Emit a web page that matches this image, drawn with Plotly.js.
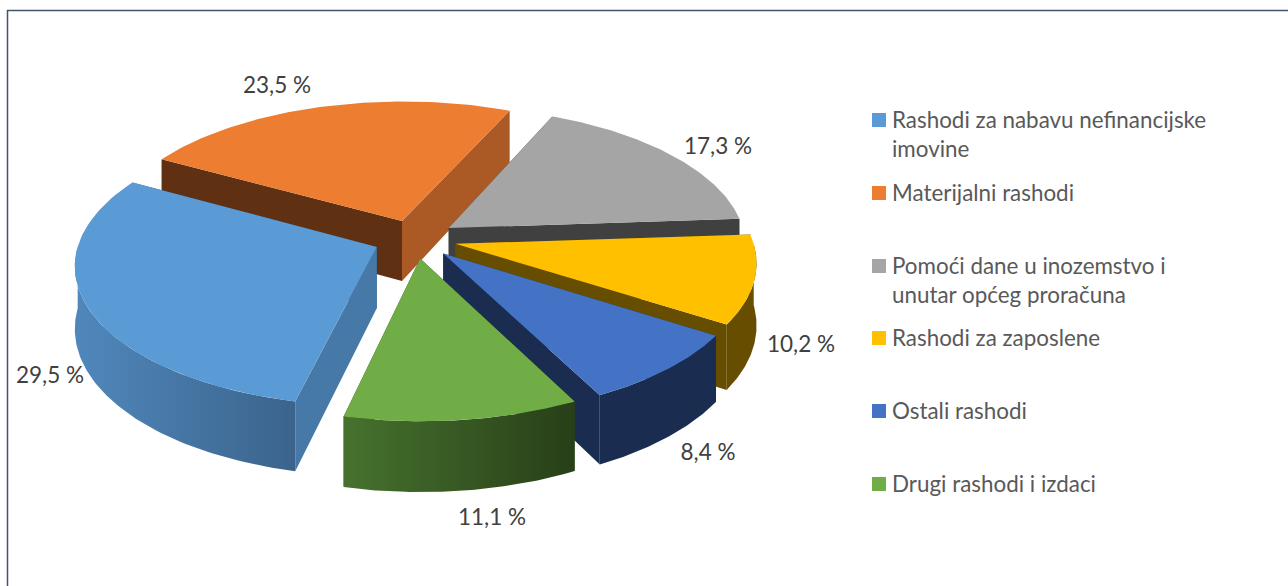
<!DOCTYPE html>
<html><head><meta charset="utf-8">
<script src="https://cdn.plot.ly/plotly-3.0.1.min.js"></script>
<style>html,body{margin:0;padding:0;background:#fff}#c{width:1288px;height:586px}</style>
</head><body><div id="c"></div>
<script>
// ---- data ----
const categories = ['Rashodi za nabavu nefinancijske<br>imovine','Materijalni rashodi','Pomoći dane u inozemstvo i<br>unutar općeg proračuna','Rashodi za zaposlene','Ostali rashodi','Drugi rashodi i izdaci'];
const values = [29.5,23.5,17.3,10.2,8.4,11.1];
// ---- styles ----
const topColors   = ['#5b9bd5','#ed7d31','#a5a5a5','#ffc000','#4472c4','#70ad47'];
const startWall   = ['#4679a8','#5f3112','#404040','#664d00','#1a2c50','#2b4519'];
const endWall     = ['#335f88','#ab5a25','#404040','#664d00','#1a2c50','#2b4519'];
const outerFrom   = ['#5088bc','#5f3112','#404040','#664d00','#1a2c50','#46722e'];
const outerTo     = ['#3b638c','#5f3112','#404040','#664d00','#1a2c50','#283f18'];
const drawOrder   = [1,2,3,4,5,0];
const labelX = [50,277,718,801,708,492];
const labelY = [377,87,148,346,454,519];
const legendY = [120,193,266,338,411,484];
// ---- pie geometry ----
const G = {cx:415, cy:239, rx:297, ry:138, persp:0.121, depth:61, explode:0.14, start:257};
const rad = d => d*Math.PI/180;
const total = values.reduce((a,b)=>a+b,0);
function proj(X,Y,h){
  const w = 1/(1+G.persp*Y);
  return [G.cx+G.rx*X*w, G.cy-G.ry*Y*w+(h?G.depth*w:0)];
}
const angles=[]; let acc=G.start;
values.forEach(v=>{const a0=acc, a1=acc-v/total*360; angles.push([a0,a1]); acc=a1;});

function poly(pts,color,grad,name){
  const t={type:'scatter',mode:'lines',x:pts.map(p=>p[0]),y:pts.map(p=>p[1]),fill:'toself',
    line:{width:0,color:color},fillcolor:color,hoverinfo:'skip',showlegend:false,name:name};
  if(grad) t.fillgradient={type:'horizontal',colorscale:[[0,grad[0]],[1,grad[1]]]};
  return t;
}
const traces=[];
drawOrder.forEach(i=>{
  const [a0,a1]=angles[i], mid=rad((a0+a1)/2);
  const ax=G.explode*Math.cos(mid), ay=G.explode*Math.sin(mid);
  const arc=(from,to,h)=>{const n=80,o=[];for(let k=0;k<=n;k++){const t=rad(from+(to-from)*k/n);o.push(proj(ax+Math.cos(t),ay+Math.sin(t),h));}return o;};
  const edge=(a)=>[ax+Math.cos(rad(a)),ay+Math.sin(rad(a))];
  const wall=(a,c)=>{const e=edge(a);return poly([proj(ax,ay,0),proj(e[0],e[1],0),proj(e[0],e[1],1),proj(ax,ay,1)],c,null,categories[i]);};
  traces.push(wall(a1,endWall[i]));
  traces.push(wall(a0,startWall[i]));
  // outer wall: only the part on the near side of the disc
  let f=a0,t=a1;
  if(f>180&&t<180) t=180;         // slice straddles the left end
  if(t<0&&f>0) f=0;               // slice straddles the right end
  if(f>0&&f<=180&&t>=0) f=null;   // slice lies at the back
  if(f!==null){
    const top=arc(f,t,0), bot=arc(f,t,1).reverse();
    traces.push(poly(top.concat(bot),outerFrom[i],[outerFrom[i],outerTo[i]],categories[i]));
  }
  // top face
  traces.push(poly([proj(ax,ay,0)].concat(arc(a0,a1,0)),topColors[i],null,categories[i]));
});
// value labels
traces.push({type:'scatter',mode:'text',x:labelX,y:labelY,
  text:values.map(v=>v.toFixed(1).replace('.',',')+' %'),textposition:'middle center',
  textfont:{family:'Lato, "Open Sans", sans-serif',size:22.5,color:'#404040'},hoverinfo:'skip',showlegend:false});
// legend swatches
traces.push({type:'scatter',mode:'markers',x:categories.map(()=>879),y:legendY,
  marker:{symbol:'square',size:14,color:topColors,line:{width:0}},hoverinfo:'skip',showlegend:false});
// legend text
const annotations=[];
categories.forEach((c,i)=>c.split('<br>').forEach((ln,j)=>annotations.push({
  x:892,y:legendY[i]+j*29-1,xref:'x',yref:'y',text:ln,showarrow:false,xanchor:'left',yanchor:'middle',
  xshift:-2,font:{family:'Lato, "Open Sans", sans-serif',size:22.4,color:'#595959'}})));
const layout={width:1288,height:586,margin:{l:0,r:0,t:0,b:0},paper_bgcolor:'#fff',plot_bgcolor:'#fff',showlegend:false,
  xaxis:{range:[0,1288],visible:false,fixedrange:true},
  yaxis:{range:[586,0],visible:false,fixedrange:true},
  annotations,
  shapes:[
    {type:'line',xref:'x',yref:'y',x0:7,y0:10.5,x1:1288,y1:10.5,line:{color:'#44546a',width:1.5}},
    {type:'line',xref:'x',yref:'y',x0:7.5,y0:10,x1:7.5,y1:586,line:{color:'#44546a',width:1.5}}
  ]};
Plotly.newPlot('c',traces,layout,{displayModeBar:false,staticPlot:true});
</script></body></html>
